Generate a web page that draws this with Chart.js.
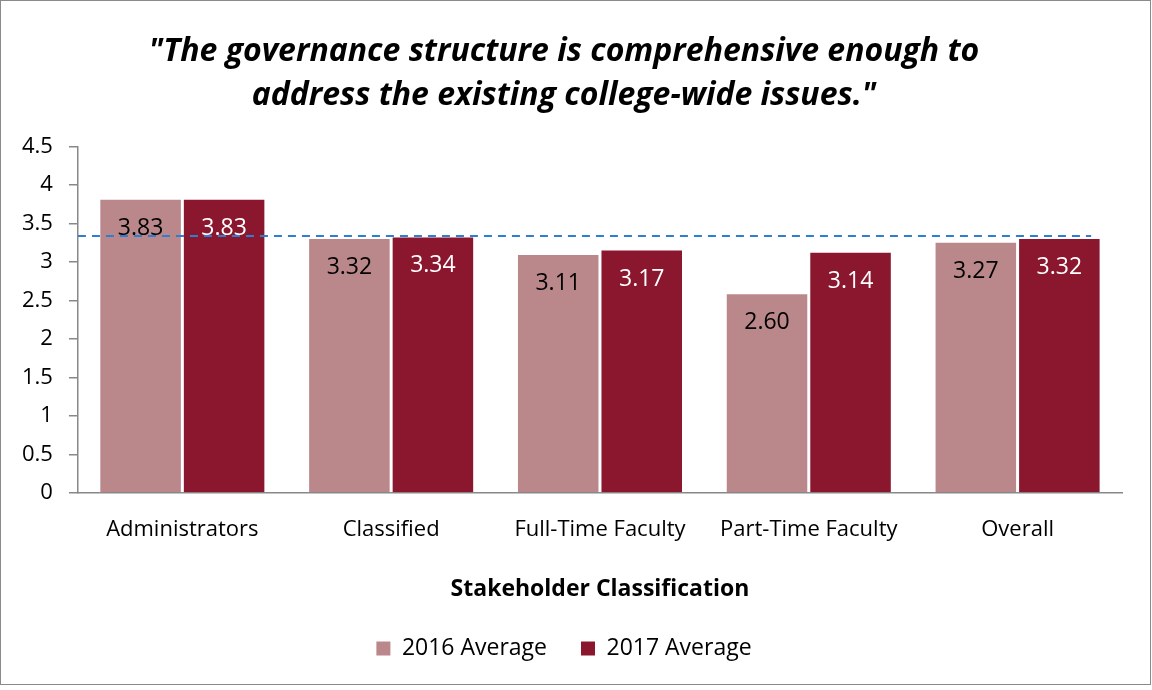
<!DOCTYPE html>
<html>
<head>
<meta charset="utf-8">
<script src="https://cdn.jsdelivr.net/npm/chart.js@4"></script>
<style>
  body { margin: 0; background: #fff; }
  #frame { position: absolute; left: 0; top: 0; width: 1149px; height: 683px; border: 1.5px solid #8a8a8a; }
  #wrap { position: absolute; left: 0; top: 0; width: 1152px; height: 690px; }
</style>
</head>
<body>
<div id="frame"></div>
<div id="wrap"><canvas id="c"></canvas></div>
<script>
// chart data
const categories = ['Administrators', 'Classified', 'Full-Time Faculty', 'Part-Time Faculty', 'Overall'];
const avg2016 = [3.83, 3.32, 3.11, 2.60, 3.27];
const avg2017 = [3.83, 3.34, 3.17, 3.14, 3.32];
const benchmark = 3.34;
const yTicks = [0, 0.5, 1, 1.5, 2, 2.5, 3, 3.5, 4, 4.5];

const FONT = '"Open Sans", "Noto Sans", sans-serif';

// value labels inside the bars + dashed reference line
const extras = {
  id: 'extras',
  afterDatasetsDraw(chart) {
    const ctx = chart.ctx;
    ctx.save();
    ctx.font = '23px ' + FONT;
    ctx.textAlign = 'center';
    ctx.textBaseline = 'middle';
    chart.data.datasets.forEach((ds, i) => {
      const meta = chart.getDatasetMeta(i);
      meta.data.forEach((bar, j) => {
        ctx.fillStyle = i === 0 ? '#000' : '#fff';
        ctx.fillText(ds.data[j].toFixed(2), bar.x, bar.y + 30);
      });
    });
    // dashed line
    const y = chart.scales.y.getPixelForValue(benchmark);
    const last = chart.getDatasetMeta(1).data[categories.length - 1];
    ctx.strokeStyle = '#2e7fcf';
    ctx.lineWidth = 2;
    ctx.setLineDash([8, 6]);
    ctx.beginPath();
    ctx.moveTo(chart.chartArea.left, y);
    ctx.lineTo(last.x + last.width / 2 - 10, y);
    ctx.stroke();
    ctx.restore();
  }
};

new Chart(document.getElementById('c'), {
  type: 'bar',
  data: {
    labels: categories,
    datasets: [
      {
        label: '2016 Average',
        data: avg2016,
        backgroundColor: '#ba878a',
        borderColor: '#ffffff',
        borderWidth: 1.5,
        borderSkipped: 'bottom'
      },
      {
        label: '2017 Average',
        data: avg2017,
        backgroundColor: '#8b172f',
        borderColor: '#ffffff',
        borderWidth: 1.5,
        borderSkipped: 'bottom'
      }
    ]
  },
  options: {
    responsive: true,
    maintainAspectRatio: false,
    animation: false,
    layout: { padding: { left: 6, right: 30, top: 29, bottom: 20 } },
    categoryPercentage: 0.8,
    barPercentage: 1.0,
    plugins: {
      title: {
        display: true,
        text: ['"The governance structure is comprehensive enough to', 'address the existing college-wide issues."'],
        font: { family: FONT, size: 32, weight: 'bold', style: 'italic', lineHeight: 1.4 },
        color: '#000',
        padding: { top: 0, bottom: 28 }
      },
      legend: {
        position: 'bottom',
        labels: {
          font: { family: FONT, size: 23 },
          color: '#000',
          boxWidth: 14,
          boxHeight: 14,
          padding: 34,
          generateLabels(chart) {
            return chart.data.datasets.map((ds, i) => ({
              text: ds.label,
              fillStyle: ds.backgroundColor,
              strokeStyle: ds.backgroundColor,
              lineWidth: 0,
              datasetIndex: i
            }));
          }
        }
      },
      tooltip: { enabled: false }
    },
    scales: {
      x: {
        grid: { display: false },
        border: { display: true, color: '#888', width: 1.5 },
        ticks: { font: { family: FONT, size: 22 }, color: '#000', padding: 16 },
        title: {
          display: true,
          text: 'Stakeholder Classification',
          font: { family: FONT, size: 23, weight: 'bold' },
          color: '#000',
          padding: { top: 16, bottom: 0 }
        }
      },
      y: {
        min: 0,
        max: 4.5,
        afterBuildTicks(axis) { axis.ticks = yTicks.map(v => ({ value: v })); },
        grid: { drawOnChartArea: false, drawTicks: true, tickLength: 9, color: '#888', lineWidth: 1.5 },
        border: { display: true, color: '#888', width: 1.5 },
        ticks: {
          font: { family: FONT, size: 22 },
          color: '#000',
          padding: 16,
          callback: v => String(v)
        }
      }
    }
  },
  plugins: [extras]
});
</script>
</body>
</html>
